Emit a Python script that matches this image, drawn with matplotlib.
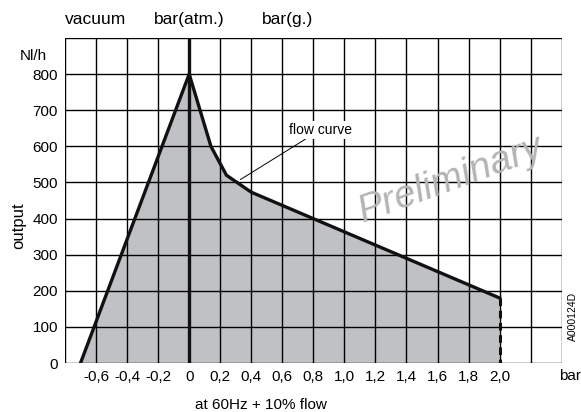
import matplotlib
matplotlib.use("Agg")
import matplotlib.pyplot as plt

plt.rcParams['font.family'] = ['Liberation Sans', 'DejaVu Sans']

# flow curve (bar, Nl/h)
curve_bar = [-0.7, 0.0, 0.14, 0.24, 0.4, 2.0]
curve_flow = [0, 800, 600, 520, 473, 180]
x_ticks = [-0.6, -0.4, -0.2, 0, 0.2, 0.4, 0.6, 0.8, 1.0, 1.2, 1.4, 1.6, 1.8, 2.0]
x_labels = ["-0,6", "-0,4", "-0,2", "0", "0,2", "0,4", "0,6", "0,8", "1,0", "1,2", "1,4", "1,6", "1,8", "2,0"]
y_ticks = [0, 100, 200, 300, 400, 500, 600, 700, 800]

fig = plt.figure(figsize=(5.81, 4.12), dpi=100)
ax = fig.add_axes([0.1119, 0.1189, 0.8549, 0.7889])
fs = 11

# shaded area under curve
ax.fill(curve_bar + [2.0], curve_flow + [0], color="#c0c1c4", zorder=1, lw=0)

# grid
for gx in [-0.8 + 0.2 * i for i in range(17)]:
    ax.axvline(gx, color="k", lw=1.0, zorder=2)
for gy in range(0, 1000, 100):
    ax.axhline(gy, color="k", lw=1.0, zorder=2)

ax.axvline(0, color="#111111", lw=2.4, zorder=3)
ax.plot(curve_bar, curve_flow, color="#111111", lw=2.4, zorder=4, solid_joinstyle="miter")
ax.plot([2.0, 2.0], [curve_flow[-1], 0], color="#111111", lw=2.2, ls=(0, (2.5, 1.5)), zorder=4)

ax.set_xlim(-0.8, 2.4)
ax.set_ylim(0, 900)
for s in ax.spines.values():
    s.set_visible(False)
ax.tick_params(length=0, labelsize=fs, pad=5)
ax.set_xticks(x_ticks)
ax.set_xticklabels(x_labels)
ax.set_yticks(y_ticks)
ax.set_yticklabels([str(v) for v in y_ticks])

# labels
top_fs = 12.5
ax.text(-0.8, 930, "vacuum", ha="left", va="bottom", fontsize=top_fs, clip_on=False)
ax.text(0.0, 930, "bar(atm.)", ha="center", va="bottom", fontsize=top_fs, clip_on=False)
ax.text(0.47, 930, "bar(g.)", ha="left", va="bottom", fontsize=top_fs, clip_on=False)
ax.text(-0.92, 850, "Nl/h", ha="right", va="center", fontsize=fs, clip_on=False)
ax.text(-1.1, 380, "output", ha="center", va="center", rotation=90, fontsize=12, clip_on=False)
ax.text(2.383, -36, "bar", ha="left", va="center", fontsize=fs, clip_on=False)
ax.text(0.46, -117, "at 60Hz + 10% flow", ha="center", va="center", fontsize=11, clip_on=False)
ax.text(2.47, 130, "A000124D", ha="center", va="center", rotation=90, fontsize=7.5, clip_on=False)

ax.annotate("flow curve", xy=(0.33, 508), xytext=(0.64, 645), fontsize=10,
            ha="left", va="center", zorder=5,
            bbox=dict(boxstyle="square,pad=0.15", fc="white", ec="none"),
            arrowprops=dict(arrowstyle="-", color="k", lw=0.7, shrinkA=0, shrinkB=0))

# watermark
ax.text(1.69, 508, "Preliminary", ha="center", va="center", rotation=20, fontsize=28,
        style="italic", color="#b4b4b4", zorder=6)

fig.savefig("out.png", dpi=100)
